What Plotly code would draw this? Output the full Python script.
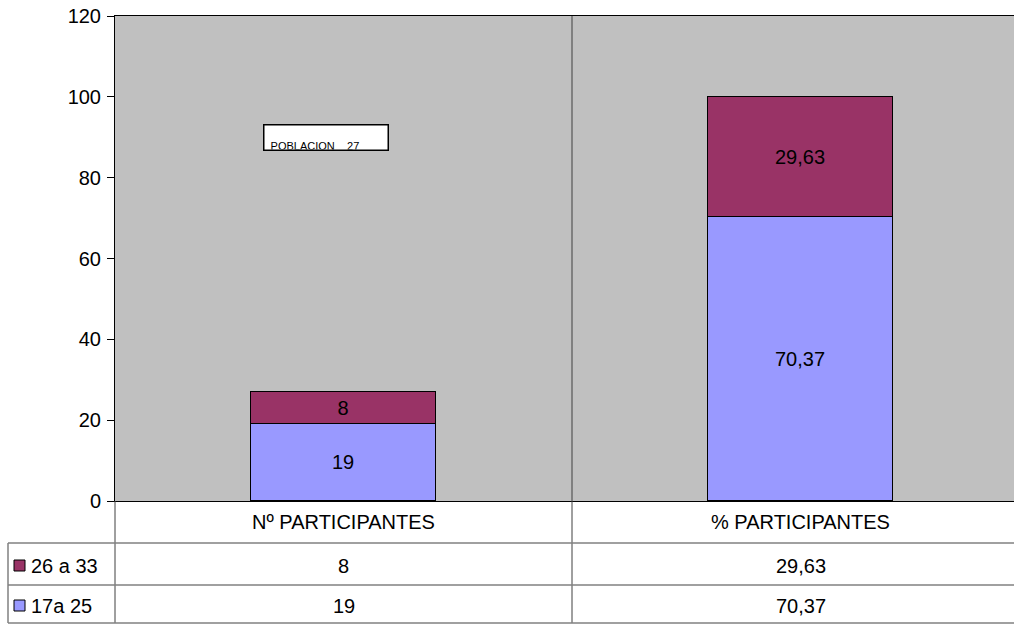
import plotly.graph_objects as go

categories = ["Nº PARTICIPANTES", "% PARTICIPANTES"]
series_names = ["17a 25", "26 a 33"]
values_17_25 = [19, 70.37]
values_26_33 = [8, 29.63]
labels_17_25 = ["19", "70,37"]
labels_26_33 = ["8", "29,63"]
colors = ["#9999FF", "#993366"]
y_ticks = [0, 20, 40, 60, 80, 100, 120]
note_text = "POBLACION    27"

x_pos = list(range(len(categories)))
FONT = "Liberation Sans, Arial, sans-serif"
FS = 20

fig = go.Figure()
for vals, labs, col, name in [(values_17_25, labels_17_25, colors[0], series_names[0]),
                              (values_26_33, labels_26_33, colors[1], series_names[1])]:
    fig.add_trace(go.Bar(
        x=x_pos, y=vals, name=name, text=labs, texttemplate="%{text}",
        textposition="inside", insidetextanchor="middle",
        textfont=dict(size=FS, color="black", family=FONT),
        marker=dict(color=col, line=dict(color="black", width=1)),
        width=0.403, showlegend=False,
    ))

# plot area on screen: x 115..1014, y 16..501 (body margin removed)
L_SCR = 115
PW = 1014 - L_SCR
def py(p):  # screen pixel y -> paper y
    return (501 - p) / 485
def pxp(p):  # screen pixel x -> paper x
    return (p - L_SCR) / PW

shapes = []
line_col = "#808080"
shapes.append(dict(type="line", xref="x", yref="paper", x0=0.5, x1=0.5, y0=py(623), y1=1,
                   line=dict(color="#404040", width=1)))
shapes.append(dict(type="line", xref="paper", yref="paper", x0=0, x1=0, y0=py(623), y1=0,
                   line=dict(color="#404040", width=1)))
for yy in [543, 585, 623]:
    shapes.append(dict(type="line", xref="paper", yref="paper", x0=pxp(8), x1=1, y0=py(yy), y1=py(yy),
                       line=dict(color=line_col, width=1.5)))
shapes.append(dict(type="line", xref="paper", yref="paper", x0=pxp(8), x1=pxp(8), y0=py(623), y1=py(543),
                   line=dict(color=line_col, width=1.5)))

annotations = []
row_centers = [566, 606]
row_series = [(series_names[1], labels_26_33, colors[1]), (series_names[0], labels_17_25, colors[0])]
for yc, (name, labs, col) in zip(row_centers, row_series):
    shapes.append(dict(type="rect", xref="paper", yref="paper",
                       x0=pxp(14), x1=pxp(25), y0=py(yc + 5), y1=py(yc - 6),
                       fillcolor=col, line=dict(color="black", width=1)))
    annotations.append(dict(xref="paper", yref="paper", x=pxp(29), y=py(yc), text=name,
                            showarrow=False, xanchor="left", yanchor="middle",
                            font=dict(size=FS, family=FONT, color="black")))
    for xi, lab in zip(x_pos, labs):
        annotations.append(dict(xref="x", yref="paper", x=xi, y=py(yc), text=lab,
                                showarrow=False, xanchor="center", yanchor="middle",
                                font=dict(size=FS, family=FONT, color="black")))

# note box with clipped text
annotations.append(dict(xref="paper", yref="paper", x=pxp(263), y=py(124),
                        text="&nbsp;<br>&nbsp;&nbsp;" + note_text,
                        showarrow=False, xanchor="left", yanchor="top", align="left", valign="top",
                        width=123, height=24, borderpad=0, borderwidth=1.5,
                        bordercolor="black", bgcolor="white",
                        font=dict(size=11, family=FONT, color="black")))

fig.update_layout(
    width=1014, height=624,
    margin=dict(l=115, r=0, t=16, b=123),
    paper_bgcolor="white", plot_bgcolor="#C0C0C0",
    barmode="stack", bargap=0,
    font=dict(family=FONT, size=FS, color="black"),
    shapes=shapes, annotations=annotations,
    xaxis=dict(range=[-0.5, -0.5 + PW / 457], tickvals=x_pos, ticktext=categories,
               showgrid=False, zeroline=False, ticks="", showline=True, linecolor="black",
               linewidth=1, mirror=True, tickfont=dict(size=FS, family=FONT), ticklabelstandoff=3),
    yaxis=dict(range=[0, 120], tickvals=y_ticks, showgrid=False, zeroline=False,
               ticks="outside", ticklen=7, tickcolor="black", showline=True, linecolor="black",
               linewidth=1, mirror=True, tickfont=dict(size=FS, family=FONT), ticklabelstandoff=2),
)

fig.write_html("out.html", config={"displayModeBar": False},
               post_script="document.body.style.margin='0';")
